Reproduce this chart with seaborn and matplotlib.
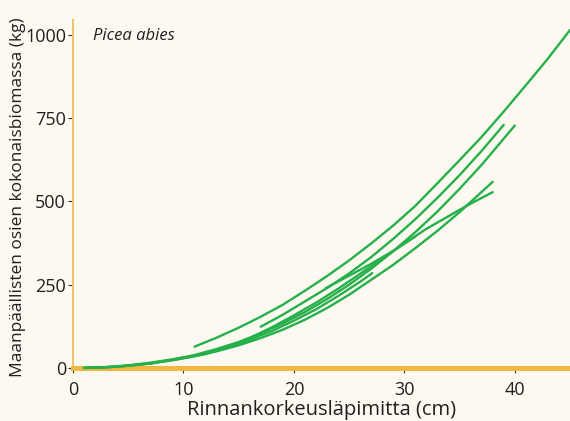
import numpy as np
import pandas as pd
import matplotlib
matplotlib.use("Agg")
from matplotlib import pyplot as plt
import seaborn as sns

# diameter (cm) / above-ground biomass (kg), one pair per curve
curve_a_d = [11, 13, 15, 17, 19, 21, 23, 25, 27, 29, 31, 33, 35, 37, 39, 41, 43, 45]
curve_a_kg = [64, 91, 121, 154, 190, 232, 276, 323, 374, 428, 487, 555, 624, 694, 770, 849, 929, 1015]

curve_b_d = [17, 19, 21, 23, 25, 27, 29, 31, 33, 35, 37, 39]
curve_b_kg = [124, 160, 200, 240, 284, 333, 388, 447, 511, 579, 652, 730]

curve_c_d = [1, 3, 5, 7, 9, 11, 13, 15, 17, 19, 21, 23, 25, 27, 29, 31, 33, 35, 37, 40]
curve_c_kg = [0.2, 2, 6.5, 14, 25, 39, 57, 78, 104, 134, 168, 207, 250, 298, 351, 408, 470, 538, 610, 728]

curve_f_d = [1, 3, 5, 7, 9, 11, 13, 15, 17, 19, 21, 23, 25, 27, 29, 31, 33, 35, 38]
curve_f_kg = [0.2, 2.4, 7, 14, 23, 35, 50, 68, 90, 115, 145, 180, 220, 265, 310, 360, 412, 468, 559]

curve_g_d = [1, 4, 7, 10, 12, 14, 16, 18, 20, 22, 24, 26, 28, 30, 32, 33.8, 35.8, 38]
curve_g_kg = [0.2, 4, 13, 30, 42, 62, 90, 122, 158, 196, 238, 283, 328, 374, 418, 452, 490, 528]

curve_h_d = [12, 14, 16, 18, 20, 22, 24, 26, 27.1]
curve_h_kg = [44, 62, 85, 111, 142, 176, 216, 259, 285]

curve_i_d = [22.9, 25, 27, 29, 31]
curve_i_kg = [240, 277, 313, 352, 395]

curve_s_d = [1, 3, 5, 7, 9, 10]
curve_s_kg = [0.3, 2.8, 8, 16, 26, 32]

y_ticks = [0, 250, 500, 750, 1000]
x_ticks = [0, 10, 20, 30, 40]

curves = {
    "a": (curve_a_d, curve_a_kg),
    "b": (curve_b_d, curve_b_kg),
    "c": (curve_c_d, curve_c_kg),
    "f": (curve_f_d, curve_f_kg),
    "g": (curve_g_d, curve_g_kg),
    "h": (curve_h_d, curve_h_kg),
    "i": (curve_i_d, curve_i_kg),
    "s": (curve_s_d, curve_s_kg),
}
rows = []
for name, (d, kg) in curves.items():
    for x, y in zip(d, kg):
        rows.append({"curve": name, "d": x, "kg": y})
df = pd.DataFrame(rows)

bg = "#fdf8f0"
green = "#25b04b"
orange = "#efb640"
txt = "#231f20"

sns.set_theme(style="ticks")
plt.rcParams["font.family"] = ["Open Sans", "DejaVu Sans"]

fig = plt.figure(figsize=(5.7, 4.21), dpi=100, facecolor=bg)
ax = fig.add_axes([73 / 570, 53 / 421, 497 / 570, 348 / 421])
ax.set_facecolor(bg)

sns.lineplot(data=df, x="d", y="kg", hue="curve", units="curve", estimator=None, sort=False,
             palette=[green] * len(curves), legend=False, linewidth=1.7, ax=ax,
             zorder=4, clip_on=False)

ax.set_xlim(0, 45)
ax.set_ylim(0, 1045)
ax.set_xticks(x_ticks)
ax.set_yticks(y_ticks)
ax.tick_params(axis="both", direction="out", length=3.5, width=0.8, color="#333333",
               labelsize=13, labelcolor=txt)
ax.tick_params(axis="x", pad=6)
ax.tick_params(axis="y", pad=1.5)

for side in ["top", "right"]:
    ax.spines[side].set_visible(False)
ax.spines["left"].set_color("#f1c266")
ax.spines["left"].set_linewidth(1.4)
ax.spines["bottom"].set_color(orange)
ax.spines["bottom"].set_linewidth(3.6)
ax.spines["bottom"].set_zorder(3)

ax.set_xlabel("Rinnankorkeusläpimitta (cm)", fontsize=14.5, color=txt)
ax.xaxis.set_label_coords(0.5, -0.093)
ax.set_ylabel("Maanpäällisten osien kokonaisbiomassa (kg)", fontsize=12.5, color=txt)
ax.yaxis.set_label_coords(-0.094, 0.49)
ax.text(0.040, 0.953, "Picea abies", transform=ax.transAxes, fontsize=12, style="italic",
        color=txt, va="center", ha="left")

fig.savefig("out.png", dpi=100, facecolor=bg)
